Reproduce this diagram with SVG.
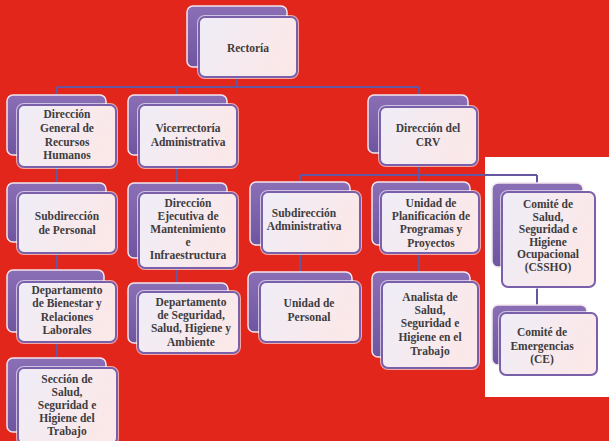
<svg xmlns="http://www.w3.org/2000/svg" width="609" height="441" viewBox="0 0 609 441">
<defs>
<linearGradient id="fg" x1="0" y1="0" x2="1" y2="0.3">
<stop offset="0" stop-color="#efedf7"/>
<stop offset="1" stop-color="#fbe8e9"/>
</linearGradient>
<linearGradient id="bg" x1="0" y1="0" x2="0" y2="1">
<stop offset="0" stop-color="#8a6fb6"/>
<stop offset="1" stop-color="#6f55a0"/>
</linearGradient>
<style>
.back{fill:url(#bg);stroke:#f4e6ee;stroke-width:1.5}
.front{fill:url(#fg);stroke:#7a60aa;stroke-width:2}
.halo{fill:none;stroke:#fff;stroke-width:4;opacity:0.6}
.t{font-family:"Liberation Serif","DejaVu Serif",serif;font-size:11.5px;fill:#403c3e;text-anchor:middle;font-weight:bold}
.c{fill:none;stroke:#6656a0;stroke-width:2}
</style>
</defs>
<rect width="609" height="441" fill="#e2261b"/>
<rect x="485" y="157" width="124" height="240" fill="#ffffff"/>
<g id="connectors">
<path class="c" d="M237 77V87M57 87H419M57 87V95M177 87V95M419 87V107"/>
<path class="c" d="M57 167V183M177 167V183M57 253V270M57 342V358M177 268V283"/>
<path class="c" d="M419 165V175M300 175H537M300 175V182M419 175V182M537 175V183M537 287V305M300 253V272M419 253V272"/>
</g>
<g id="n-rectoria">
<rect class="back" x="187" y="6" width="100" height="61" rx="6"/>
<rect class="halo" x="199" y="17" width="98" height="60" rx="6"/>
<rect class="front" x="199" y="17" width="98" height="60" rx="6"/>
<text class="t" x="248" y="52">Rectoría</text>
</g>
<g id="n-dgrh">
<rect class="back" x="7" y="95" width="99" height="60" rx="6"/>
<rect class="halo" x="18" y="105" width="98" height="62" rx="6"/>
<rect class="front" x="18" y="105" width="98" height="62" rx="6"/>
<text class="t" x="67" y="118">Dirección</text>
<text class="t" x="67" y="132">General de</text>
<text class="t" x="67" y="146">Recursos</text>
<text class="t" x="67" y="159">Humanos</text>
</g>
<g id="n-vicerrectoria">
<rect class="back" x="128" y="95" width="99" height="60" rx="6"/>
<rect class="halo" x="139" y="105" width="98" height="62" rx="6"/>
<rect class="front" x="139" y="105" width="98" height="62" rx="6"/>
<text class="t" x="188" y="132">Vicerrectoría</text>
<text class="t" x="188" y="146">Administrativa</text>
</g>
<g id="n-crv">
<rect class="back" x="368" y="95" width="100" height="58" rx="6"/>
<rect class="halo" x="380" y="107" width="97" height="58" rx="6"/>
<rect class="front" x="380" y="107" width="97" height="58" rx="6"/>
<text class="t" x="428" y="132">Dirección del</text>
<text class="t" x="428" y="146">CRV</text>
</g>
<g id="n-subpersonal">
<rect class="back" x="7" y="183" width="99" height="59" rx="6"/>
<rect class="halo" x="18" y="193" width="98" height="60" rx="6"/>
<rect class="front" x="18" y="193" width="98" height="60" rx="6"/>
<text class="t" x="67" y="220">Subdirección</text>
<text class="t" x="67" y="234">de Personal</text>
</g>
<g id="n-dirEjecutiva">
<rect class="back" x="128" y="183" width="99" height="75" rx="6"/>
<rect class="halo" x="139" y="193" width="98" height="75" rx="6"/>
<rect class="front" x="139" y="193" width="98" height="75" rx="6"/>
<text class="t" x="188" y="207">Dirección</text>
<text class="t" x="188" y="220">Ejecutiva de</text>
<text class="t" x="188" y="233">Mantenimiento</text>
<text class="t" x="188" y="246">e</text>
<text class="t" x="188" y="259">Infraestructura</text>
</g>
<g id="n-subadmin">
<rect class="back" x="250" y="182" width="100" height="63" rx="6"/>
<rect class="halo" x="262" y="192" width="98" height="61" rx="6"/>
<rect class="front" x="262" y="192" width="98" height="61" rx="6"/>
<text class="t" x="304" y="217">Subdirección</text>
<text class="t" x="304" y="230">Administrativa</text>
</g>
<g id="n-planificacion">
<rect class="back" x="372" y="182" width="98" height="63" rx="6"/>
<rect class="halo" x="381" y="192" width="98" height="61" rx="6"/>
<rect class="front" x="381" y="192" width="98" height="61" rx="6"/>
<text class="t" x="431" y="207">Unidad de</text>
<text class="t" x="431" y="220">Planificación de</text>
<text class="t" x="431" y="233">Programas y</text>
<text class="t" x="431" y="247">Proyectos</text>
</g>
<g id="n-cssho">
<rect class="back" x="492" y="183" width="91" height="84" rx="6"/>
<rect class="halo" x="502" y="192" width="93" height="95" rx="6"/>
<rect class="front" x="502" y="192" width="93" height="95" rx="6"/>
<text class="t" x="548" y="208">Comité de</text>
<text class="t" x="548" y="220.5">Salud,</text>
<text class="t" x="548" y="233">Seguridad e</text>
<text class="t" x="548" y="245.5">Higiene</text>
<text class="t" x="548" y="258">Ocupacional</text>
<text class="t" x="548" y="270.5">(CSSHO)</text>
</g>
<g id="n-bienestar">
<rect class="back" x="7" y="270" width="97" height="62" rx="6"/>
<rect class="halo" x="18" y="282" width="98" height="60" rx="6"/>
<rect class="front" x="18" y="282" width="98" height="60" rx="6"/>
<text class="t" x="67" y="294">Departamento</text>
<text class="t" x="67" y="307">de Bienestar y</text>
<text class="t" x="67" y="321">Relaciones</text>
<text class="t" x="67" y="334">Laborales</text>
</g>
<g id="n-depseguridad">
<rect class="back" x="128" y="283" width="100" height="60" rx="6"/>
<rect class="halo" x="138" y="292" width="101" height="61" rx="6"/>
<rect class="front" x="138" y="292" width="101" height="61" rx="6"/>
<text class="t" x="191" y="306">Departamento</text>
<text class="t" x="191" y="319">de Seguridad,</text>
<text class="t" x="191" y="332">Salud, Higiene y</text>
<text class="t" x="191" y="346">Ambiente</text>
</g>
<g id="n-unipersonal">
<rect class="back" x="248" y="272" width="104" height="60" rx="6"/>
<rect class="halo" x="260" y="282" width="100" height="60" rx="6"/>
<rect class="front" x="260" y="282" width="100" height="60" rx="6"/>
<text class="t" x="309" y="307">Unidad de</text>
<text class="t" x="309" y="321">Personal</text>
</g>
<g id="n-analista">
<rect class="back" x="372" y="272" width="98" height="85" rx="6"/>
<rect class="halo" x="382" y="282" width="96" height="86" rx="6"/>
<rect class="front" x="382" y="282" width="96" height="86" rx="6"/>
<text class="t" x="430" y="301">Analista de</text>
<text class="t" x="430" y="314">Salud,</text>
<text class="t" x="430" y="327">Seguridad e</text>
<text class="t" x="430" y="341">Higiene en el</text>
<text class="t" x="430" y="355">Trabajo</text>
</g>
<g id="n-ce">
<rect class="back" x="492" y="305" width="95" height="60" rx="6"/>
<rect class="halo" x="500" y="313" width="97" height="62" rx="6"/>
<rect class="front" x="500" y="313" width="97" height="62" rx="6"/>
<text class="t" x="542" y="336">Comité de</text>
<text class="t" x="542" y="349.5">Emergencias</text>
<text class="t" x="542" y="363">(CE)</text>
</g>
<g id="n-seccion">
<rect class="back" x="7" y="358" width="99" height="74" rx="6"/>
<rect class="halo" x="18" y="368" width="99" height="76" rx="6"/>
<rect class="front" x="18" y="368" width="99" height="76" rx="6"/>
<text class="t" x="67" y="383">Sección de</text>
<text class="t" x="67" y="396">Salud,</text>
<text class="t" x="67" y="409">Seguridad e</text>
<text class="t" x="67" y="422">Higiene del</text>
<text class="t" x="67" y="435">Trabajo</text>
</g>
</svg>
